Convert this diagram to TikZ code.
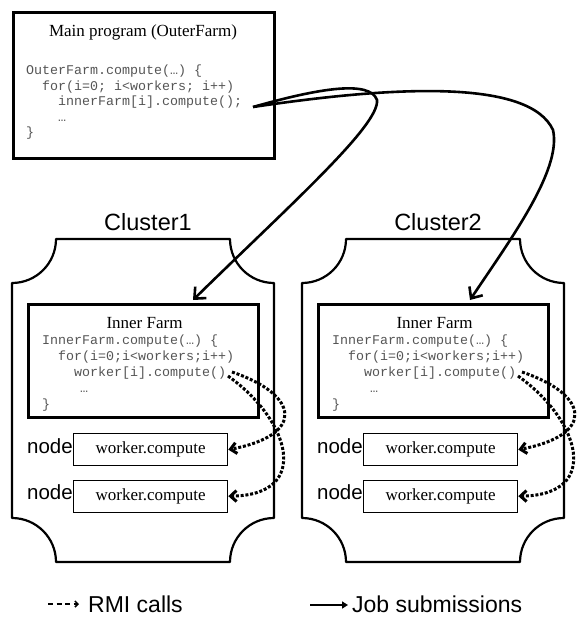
\documentclass[tikz,border=0pt]{standalone}
\usepackage{fontspec}
\setmainfont{Liberation Serif}
\newfontfamily\codefont{Liberation Mono}
\newfontfamily\labfont{Liberation Sans}
\usetikzlibrary{arrows.meta,calc}
\definecolor{codegray}{RGB}{85,85,85}
\begin{document}
\begin{tikzpicture}[x=1pt,y=-1pt,
  box/.style={draw, line width=2.8pt, inner sep=0pt, anchor=north west},
  wbox/.style={draw, line width=1.3pt, inner sep=0pt, anchor=north west,
    minimum width=154pt, minimum height=32pt, font=\fontsize{17}{20}\selectfont},
  titletext/.style={font=\fontsize{17}{20}\selectfont, inner sep=0pt, anchor=base},
  code/.style={font=\codefont\fontsize{13.33}{16}\selectfont, text=codegray, inner sep=0pt, anchor=base west},
  clabel/.style={font=\labfont\fontsize{23.5}{26}\selectfont, inner sep=0pt, anchor=base},
  nlabel/.style={font=\labfont\fontsize{20.5}{24}\selectfont, inner sep=0pt, anchor=base east},
  legendtext/.style={font=\labfont\fontsize{23}{26}\selectfont, inner sep=0pt, anchor=base west},
  cluster/.style={draw, line width=2.2pt, line join=round},
  job/.style={line width=2.6pt, -{Straight Barb[length=9pt,width=16pt]}},
  rmi/.style={line width=3pt, dash pattern=on 3pt off 1.8pt, -{Straight Barb[length=6pt,width=11pt]}}]
\useasboundingbox (0,0) rectangle (578,617);

% main program
\node[box, minimum width=261pt, minimum height=146pt] (main) at (12,11) {};
\node[titletext] (maintitle) at (143,37) {Main program (OuterFarm)};
\node[code] (mc1) at (26,75) {OuterFarm.compute(…) \{};
\node[code] (mc2) at (42,90.5) {for(i=0; i<workers; i++)};
\node[code] (mc3) at (58,106) {innerFarm[i].compute();};
\node[code] (mc4) at (58,121.5) {…};
\node[code] (mc5) at (26,137) {\}};
\coordinate (js) at (253,107);

\foreach \dx/\n in {0/1,290/2}{
  \draw[cluster] (\dx+56,239) -- (\dx+230,239)
    .. controls (\dx+230,263.3) and (\dx+249.7,283) .. (\dx+274,283)
    -- (\dx+274,518)
    .. controls (\dx+249.7,518) and (\dx+230,537.7) .. (\dx+230,562)
    -- (\dx+56,562)
    .. controls (\dx+56,537.7) and (\dx+36.3,518) .. (\dx+12,518)
    -- (\dx+12,283)
    .. controls (\dx+36.3,283) and (\dx+56,263.3) .. cycle;
  \node[clabel] (cl\n) at (\dx+148,230) {Cluster\n};
  \node[box, minimum width=230pt, minimum height=113pt] (inner\n) at (\dx+27,303) {};
  \node[titletext] (it\n) at (\dx+144.5,328) {Inner Farm};
  \node[code] (ica\n) at (\dx+42,344) {InnerFarm.compute(…) \{};
  \node[code] (icb\n) at (\dx+58,360) {for(i=0;i<workers;i++)};
  \node[code] (icc\n) at (\dx+74,376) {worker[i].compute()};
  \node[code] (icd\n) at (\dx+80,392) {…};
  \node[code] (ice\n) at (\dx+42,408) {\}};
  \node[wbox] (wa\n) at (\dx+73,433) {worker.compute\hspace{16pt}};
  \node[wbox] (wb\n) at (\dx+73,479.5) {worker.compute\hspace{16pt}};
  \node[nlabel] (na\n) at (\dx+73,453) {node};
  \node[nlabel] (nb\n) at (\dx+73,499) {node};
  \coordinate (ra\n) at (\dx+232,372);
  \coordinate (rb\n) at (\dx+228,376);
  \draw[rmi] (ra\n) .. controls (\dx+300,395) and (\dx+305,435) .. (wa\n.east);
  \draw[rmi] (rb\n) .. controls (\dx+290,420) and (\dx+312,495) .. (wb\n.east);
}

% job submissions
\draw[job] (js) .. controls (320,88) and (370,80) .. (377,100)
  .. controls (380,125) and (290,205) .. ($(inner1.north west)+(166,-3)$);
\draw[job] (js) .. controls (400,85) and (530,80) .. (553,130)
  .. controls (562,170) and (510,240) .. ($(inner2.north west)+(153,-3)$);

% legend
\coordinate (l1) at (48,604);
\coordinate (l2) at (79,604);
\draw[line width=1.5pt, dash pattern=on 5pt off 3.5pt, -{Straight Barb[length=3pt,width=6pt]}] (l1) -- (l2);
\node[legendtext] (rmilabel) at (88,612) {RMI calls};
\coordinate (l3) at (310,605);
\coordinate (l4) at (348,605);
\draw[line width=2.5pt, -{Triangle[length=6pt,width=7pt]}] (l3) -- (l4);
\node[legendtext] (joblabel) at (352,612) {Job submissions};
\end{tikzpicture}
\end{document}
